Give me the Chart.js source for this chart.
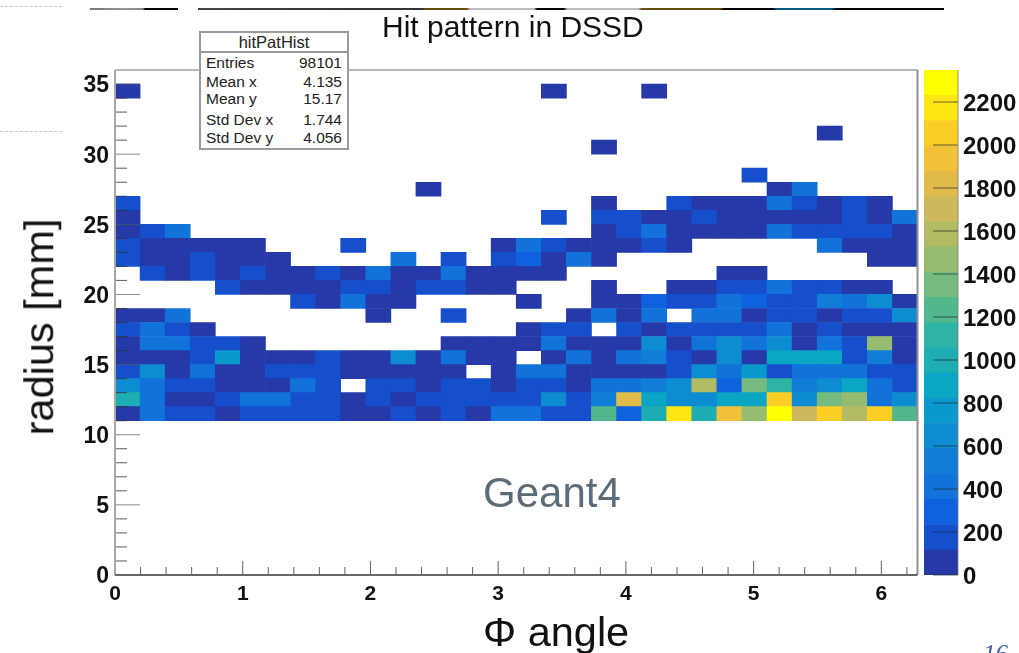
<!DOCTYPE html>
<html>
<head>
<meta charset="utf-8">
<title>Hit pattern in DSSD</title>
<script src="https://cdn.jsdelivr.net/npm/chart.js@4/dist/chart.umd.min.js"></script>
<style>
  html, body { margin: 0; background: #fff; overflow: hidden; }
  #page { position: relative; width: 1019px; height: 653px; overflow: hidden; font-family: "Liberation Sans", sans-serif; color: #111; }
  canvas { position: absolute; left: 0; top: 0; }
  .txt { position: absolute; white-space: nowrap; line-height: 1; }
  #title { left: 382px; top: 12px; font-size: 30px; }
  #ytitle { left: 39px; top: 327px; font-size: 41.5px; transform: translate(-50%, -50%) rotate(-90deg); }
  #xtitle { left: 483px; top: 611px; font-size: 41.5px; }
  #geant { left: 483px; top: 472px; font-size: 42px; color: #5b6c79; }
  #page-no { left: 983px; top: 641px; font-size: 25px; font-family: "Liberation Serif", serif; font-style: italic; color: #3d5c9c; }
  #stats { position: absolute; left: 199px; top: 31px; width: 146px; height: 115px; border: 2px solid #9a9a9a; background: #fff; font-size: 15.5px; color: #222; }
  #stats .head { height: 18px; line-height: 19px; text-align: center; border-bottom: 2px solid #9a9a9a; font-size: 16.5px; }
  #stats .row { position: absolute; left: 5px; right: 5px; display: flex; justify-content: space-between; line-height: 1; }
  .rule { position: absolute; top: 8px; height: 2px; }
  .dash { position: absolute; left: 0; width: 62px; border-top: 1px dashed #c8c8c8; }
</style>
</head>
<body>
<div id="page">
  <div class="dash" style="top:6px"></div>
  <div class="dash" style="top:131px"></div>
  <div class="rule" style="left:90px;width:88px;background:linear-gradient(90deg,#777 0,#999 40%,#888 60%,#000 63%)"></div>
  <div class="rule" style="left:198px;width:746px;background:linear-gradient(90deg,#444 0,#333 25%,#333 30%,#6b4c10 30.5%,#6b4c10 36%,#bbb 36.5%,#bbb 45%,#000 45.5%,#000 49%,#bbb 49.5%,#bbb 59%,#6b4c10 59.5%,#6b4c10 70%,#000 70.5%,#000 77%,#0b5a80 77.5%,#0b5a80 85%,#000 85.5%)"></div>
  <canvas id="hist" width="1019" height="653"></canvas>
  <canvas id="palette" width="1019" height="653"></canvas>
  <div id="title" class="txt">Hit pattern in DSSD</div>
  <div id="ytitle" class="txt">radius [mm]</div>
  <div id="xtitle" class="txt">&Phi; angle</div>
  <div id="geant" class="txt">Geant4</div>
  <div id="page-no" class="txt">16</div>
  <div id="stats"></div>
</div>

<script>
// bin counts per radius row, 32 phi bins each, 0 means empty bin
const r11 = [60,410,175,175,60,175,175,175,175,60,60,175,60,175,60,410,410,175,175,1235,295,1000,2170,1000,1935,1470,2290,1700,2055,1585,2055,1235];
const r12 = [1000,410,60,60,175,410,410,175,175,60,175,60,175,175,175,175,175,645,175,530,1820,880,645,645,880,880,2055,645,1350,1470,410,645];
const r13 = [645,410,175,175,60,60,60,410,175,0,175,175,60,175,175,60,175,175,60,410,410,530,645,1585,295,1350,1115,530,645,880,410,175];
const r14 = [175,645,60,410,60,60,175,175,175,60,60,60,60,60,0,60,410,410,60,60,60,60,175,645,410,765,175,410,410,410,175,175];
const r15 = [60,60,60,175,765,60,60,60,175,60,60,645,60,410,60,60,0,60,410,60,410,530,175,60,645,60,880,880,880,175,530,60];
const r16 = [60,410,410,175,175,60,0,0,0,0,0,0,0,60,60,60,60,410,60,60,60,645,60,410,645,410,645,60,410,175,1470,60];
const r17 = [175,410,175,60,0,0,0,0,0,0,0,0,0,0,0,0,60,175,175,0,175,60,175,175,175,175,410,60,175,60,60,60];
const r18 = [60,60,410,0,0,0,0,0,0,0,60,0,0,175,0,0,0,0,60,410,60,410,0,410,410,60,175,175,60,175,175,645];
const r19 = [0,0,0,0,0,0,0,175,60,410,60,60,0,0,0,0,60,0,0,60,60,295,175,175,410,295,175,175,530,410,645,60];
const r20 = [0,0,0,0,175,60,60,60,60,175,175,60,175,175,60,60,0,0,0,60,0,0,60,60,175,175,410,175,175,60,60,0];
const r21 = [0,175,60,175,60,175,60,60,175,60,410,60,60,410,60,60,60,60,0,0,0,0,0,0,60,60,0,0,0,0,0,0];
const r22 = [175,60,60,175,60,60,60,0,0,0,0,410,0,175,0,175,295,60,410,60,0,0,0,0,0,0,0,0,0,0,60,60];
const r23 = [175,60,60,60,60,60,0,0,0,175,0,0,0,0,0,60,410,175,60,60,60,175,60,0,0,0,0,0,410,60,60,60];
const r24 = [60,175,410,0,0,0,0,0,0,0,0,0,0,0,0,0,0,0,0,60,175,410,60,60,60,60,410,175,175,175,175,60];
const r25 = [60,0,0,0,0,0,0,0,0,0,0,0,0,0,0,0,0,175,0,175,175,60,60,175,60,60,60,60,60,175,60,410];
const r26 = [175,0,0,0,0,0,0,0,0,0,0,0,0,0,0,0,0,0,0,60,0,0,175,60,60,60,410,175,60,175,60,0];
const r27 = [0,0,0,0,0,0,0,0,0,0,0,0,60,0,0,0,0,0,0,0,0,0,0,0,0,0,60,410,0,0,0,0];
const r28 = [0,0,0,0,0,0,0,0,0,0,0,0,0,0,0,0,0,0,0,0,0,0,0,0,0,175,0,0,0,0,0,0];
const r30 = [0,0,0,0,0,0,0,0,0,0,0,0,0,0,0,0,0,0,0,60,0,0,0,0,0,0,0,0,0,0,0,0];
const r31 = [0,0,0,0,0,0,0,0,0,0,0,0,0,0,0,0,0,0,0,0,0,0,0,0,0,0,0,0,60,0,0,0];
const r34 = [60,0,0,0,0,0,0,0,0,0,0,0,0,0,0,0,0,60,0,0,0,60,0,0,0,0,0,0,0,0,0,0];

const radiusBins = [11,12,13,14,15,16,17,18,19,20,21,22,23,24,25,26,27,28,30,31,34];
const radiusRows = [r11,r12,r13,r14,r15,r16,r17,r18,r19,r20,r21,r22,r23,r24,r25,r26,r27,r28,r30,r31,r34];

const phiBins = r11.map((_, i) => i);
const phiMax = 6.2832;
const radiusMax = 36;
const zMax = 2349;

// 20 contour levels, bottom to top
const palette = ["#2639a8","#154fcc","#0e62de","#1173d9","#127dd6","#0e8cd2","#0a99cc","#0ba6c4","#1eadb2","#2eb3a5",
                 "#53b78e","#75bb80","#95bc70","#b2ba64","#cdb95c","#e0bb4a","#f2c13a","#fcce25","#ffe612","#ffff00"];

const statNames = ["Entries","Mean x","Mean y","Std Dev x","Std Dev y"];
const statValues = ["98101","4.135","15.17","1.744","4.056"];
const statTops = [22, 41, 58, 79, 97];

const tickFont = { family: "'Liberation Sans', sans-serif", size: 23, weight: "bold" };

function levelColor(v) {
  const level = Math.min(palette.length - 1, Math.floor(v / zMax * palette.length));
  return palette[level];
}

function line(ctx, x1, y1, x2, y2, color, width) {
  ctx.strokeStyle = color;
  ctx.lineWidth = width;
  ctx.beginPath();
  ctx.moveTo(x1, y1);
  ctx.lineTo(x2, y2);
  ctx.stroke();
}

// digits sit a bit low on the vertical axes in the original
const nudgeLabels = {
  id: "nudgeLabels",
  beforeDraw(chart) {
    if (chart.$nudged) return;
    chart.$nudged = true;
    chart.scales.y.getLabelItems(chart.chartArea).forEach(item => {
      item.options.translation[1] += 2;
    });
  }
};

// ROOT style frame, ticks point into the plot
const frameTicks = {
  id: "frameTicks",
  afterDatasetsDraw(chart) {
    const ctx = chart.ctx;
    const a = chart.chartArea;
    const xs = chart.scales.phi;
    const ys = chart.scales.y;
    ctx.save();
    for (let i = 1; i < 32; i++) {
      const v = i / 5;
      if (v > phiMax) break;
      const major = i % 5 === 0;
      const px = xs.getPixelForValue(v);
      line(ctx, px, a.bottom, px, a.bottom - (major ? 14 : 8), "rgba(60,60,60,0.8)", 1);
    }
    for (let v = 1; v < radiusMax; v++) {
      const major = v % 5 === 0;
      const py = ys.getPixelForValue(v);
      line(ctx, a.left, py, a.left + (major ? 25 : 12), py, major ? "rgba(90,90,90,0.7)" : "rgba(50,50,50,0.8)", 1);
    }
    line(ctx, a.left, a.top, a.right, a.top, "#b8b8b8", 2);
    line(ctx, a.right, a.top, a.right, a.bottom, "#909090", 2);
    line(ctx, a.left, a.top, a.left, a.bottom, "#a8a8a8", 2);
    line(ctx, a.left, a.bottom, a.right, a.bottom, "#666", 2);
    ctx.restore();
  }
};

const datasets = radiusRows.map((row, i) => ({
  label: "r" + radiusBins[i],
  data: row.map(v => v > 0 ? [radiusBins[i], radiusBins[i] + 1] : null),
  backgroundColor: row.map(v => v > 0 ? levelColor(v) : "transparent"),
  borderWidth: 0,
  barPercentage: 1,
  categoryPercentage: 1,
  grouped: false,
  xAxisID: "x",
  yAxisID: "y"
}));

new Chart(document.getElementById("hist"), {
  type: "bar",
  data: { labels: phiBins, datasets },
  options: {
    responsive: false,
    animation: false,
    layout: { padding: { top: 70, right: 101.5, bottom: 0, left: 0 } },
    plugins: { legend: { display: false }, tooltip: { enabled: false } },
    scales: {
      x: { display: false, offset: true },
      phi: {
        type: "linear",
        position: "bottom",
        offset: false,
        min: 0,
        max: phiMax,
        grid: { display: false, drawTicks: false },
        border: { display: false },
        ticks: { stepSize: 1, includeBounds: false, autoSkip: false, maxRotation: 0, padding: 7, color: "#111",
                 font: Object.assign({}, tickFont, { size: 21 }), callback: v => String(v) },
        afterFit(scale) { scale.height = 78; }
      },
      y: {
        min: 0,
        max: radiusMax,
        grid: { display: false, drawTicks: false },
        border: { display: false },
        ticks: { stepSize: 5, includeBounds: false, autoSkip: false, padding: 6, color: "#111", font: tickFont },
        afterFit(scale) { scale.width = 115; }
      }
    }
  },
  plugins: [nudgeLabels, frameTicks]
});

// colour scale
const zTicks = {
  id: "zTicks",
  afterDatasetsDraw(chart) {
    const ctx = chart.ctx;
    const a = chart.chartArea;
    const ys = chart.scales.y;
    ctx.save();
    ys.ticks.forEach(t => {
      const py = ys.getPixelForValue(t.value);
      line(ctx, a.right - 25, py, a.right, py, "rgba(30,40,50,0.7)", 1);
    });
    line(ctx, a.right, a.top, a.right, a.bottom, "rgba(120,120,120,0.8)", 1);
    ctx.restore();
  }
};

new Chart(document.getElementById("palette"), {
  type: "bar",
  data: {
    labels: ["z"],
    datasets: palette.map((color, i) => ({
      data: [[i * zMax / palette.length, (i + 1) * zMax / palette.length]],
      backgroundColor: color,
      borderWidth: 0,
      barPercentage: 1,
      categoryPercentage: 1,
      grouped: false
    }))
  },
  options: {
    responsive: false,
    animation: false,
    layout: { padding: { top: 70, right: 0, bottom: 78, left: 924 } },
    plugins: { legend: { display: false }, tooltip: { enabled: false } },
    scales: {
      x: { display: false },
      y: {
        position: "right",
        min: 0,
        max: zMax,
        grid: { display: false, drawTicks: false },
        border: { display: false },
        ticks: { stepSize: 200, includeBounds: false, autoSkip: false, padding: 5, color: "#111",
                 font: Object.assign({}, tickFont, { size: 24 }), callback: v => String(v) },
        afterFit(scale) { scale.width = 61; }
      }
    }
  },
  plugins: [nudgeLabels, zTicks]
});

const stats = document.getElementById("stats");
stats.innerHTML = '<div class="head">hitPatHist</div>' + statNames.map((name, i) =>
  `<div class="row" style="top:${statTops[i]}px"><span>${name}</span><span>${statValues[i]}</span></div>`
).join("");
</script>
</body>
</html>
